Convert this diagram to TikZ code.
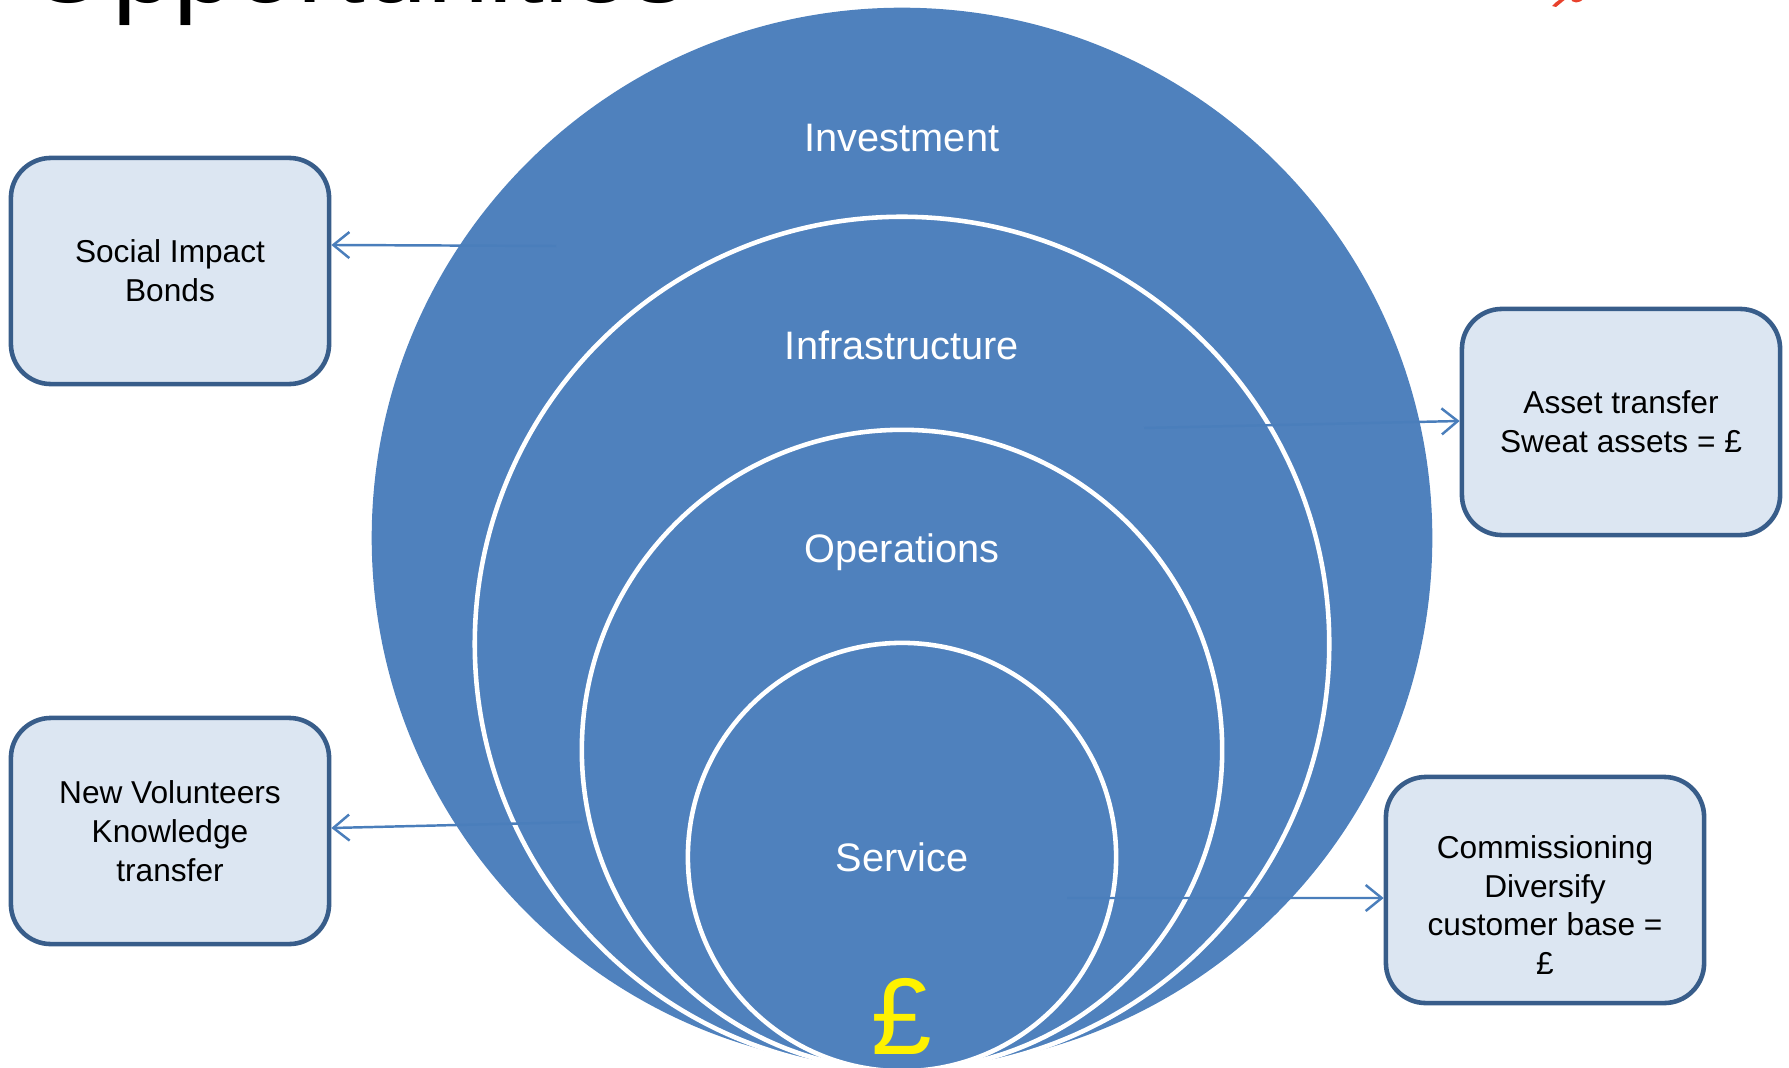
\documentclass[tikz,border=0pt]{standalone}
\usepackage{fontspec}
\setmainfont{Liberation Sans}
\usetikzlibrary{arrows.meta}
\definecolor{ringblue}{HTML}{4F81BD}
\definecolor{boxfill}{HTML}{DCE6F2}
\definecolor{boxline}{HTML}{385D8A}
\definecolor{linkblue}{HTML}{4A7EBB}
\definecolor{logored}{HTML}{E8412C}
\begin{document}
\begin{tikzpicture}[x=0.01cm,y=-0.01cm,
    ring/.style={fill=ringblue,draw=white,line width=1.3pt},
    ringlabel/.style={text=white,font=\fontsize{11.3}{13.5}\selectfont},
    oppbox/.style={draw=boxline,fill=boxfill,line width=1.3pt,rounded corners=0.4cm,
      minimum width=3.18cm,minimum height=2.26cm,align=center,font=\fontsize{9}{11}\selectfont},
    link/.style={draw=linkblue,line width=0.7pt,-{Straight Barb[length=1.6mm,width=2.6mm]}}]
  \useasboundingbox (0,0) rectangle (1789,1067);
  \clip (0,0) rectangle (1789,1067);
  \node[anchor=base west,inner sep=0pt,font=\fontsize{31.6}{38}\selectfont] (title) at (25,3) {Opportunities};
  \fill[logored] (1552,6) .. controls (1556,2) .. (1562,-2) -- (1567,-2) .. controls (1562,2) .. (1556,7) -- cycle;
  \fill[logored] (1570,-2) .. controls (1572,4) and (1580,4) .. (1584,-2) -- cycle;
  % nested rings, all touching at the bottom
  \fill[ringblue] (902,538) circle [radius=5.30cm];
  \draw[ring] (902,644) circle [radius=4.27cm];
  \draw[ring] (902,750) circle [radius=3.20cm];
  \draw[ring] (902,857) circle [radius=2.14cm];
  \node[ringlabel] (inv) at (902,138) {Investment};
  \node[ringlabel] (inf) at (902,345) {Infrastructure};
  \node[ringlabel] (ops) at (902,552) {Operations};
  \node[ringlabel] (svc) at (902,857) {Service};
  \node[text=yellow,font=\fontsize{31}{36}\selectfont] (pound) at (902,1016) {£};
  % outcome boxes
  \node[oppbox] (sib) at (170,271) {Social Impact\\Bonds};
  \node[oppbox] (ast) at (1621,422) {Asset transfer\\Sweat assets = £};
  \node[oppbox] (vol) at (170,831) {New Volunteers\\Knowledge\\transfer};
  \node[oppbox] (com) at (1545,890) {\rule{0pt}{0.53cm}Commissioning\\Diversify\\customer base =\\£};
  \coordinate (sib-src) at (556,246);
  \coordinate (ast-src) at (1144,428);
  \coordinate (vol-src) at (582,822);
  \coordinate (com-src) at (1067,898);
  \draw[link] (sib-src) -- ([yshift=0.26cm]sib.east);
  \draw[link] (ast-src) -- ([yshift=0.01cm]ast.west);
  \draw[link] (vol-src) -- ([yshift=0.03cm]vol.east);
  \draw[link] (com-src) -- ([yshift=-0.08cm]com.west);
\end{tikzpicture}
\end{document}
